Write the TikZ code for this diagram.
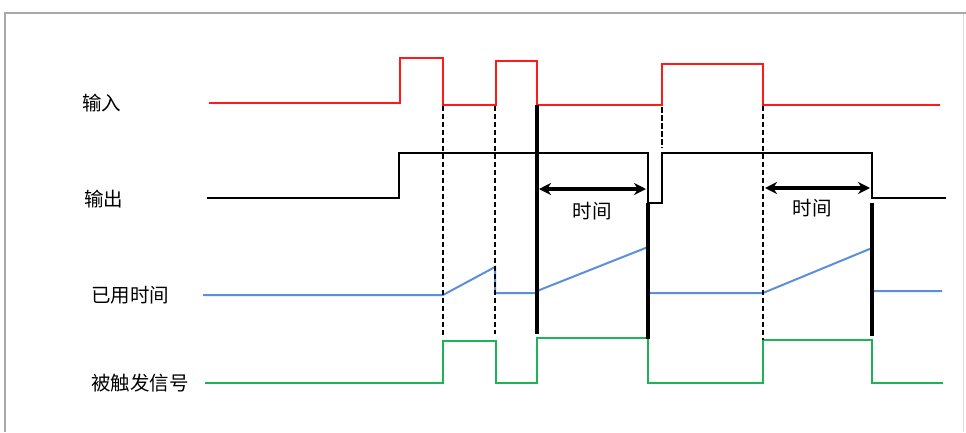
\documentclass[tikz,border=0pt]{standalone}
\usepackage{fontspec}
\setmainfont{Noto Sans CJK SC}
\usetikzlibrary{arrows.meta}
\definecolor{sigred}{HTML}{FF1A1A}
\definecolor{sigblue}{HTML}{5B8FDC}
\definecolor{siggreen}{HTML}{1DB356}
\definecolor{frame}{HTML}{A8A8A8}
\tikzset{
  sig/.style={line width=2pt, line join=miter},
  thickbar/.style={line width=3.8pt, black},
  dashbar/.style={line width=1.5pt, black, dash pattern=on 5pt off 3pt},
  lbl/.style={anchor=west, inner sep=0pt, font=\fontsize{19.5}{22}\selectfont},
  tlbl/.style={inner sep=0pt, font=\fontsize{19.5}{22}\selectfont},
  span/.style={line width=3.2pt, {Stealth[length=12pt,width=12pt]}-{Stealth[length=12pt,width=12pt]}}
}
\begin{document}
\begin{tikzpicture}[x=1pt,y=-1pt]
\useasboundingbox (0,0) rectangle (966,432);
\fill[white] (0,0) rectangle (966,432);
% frame
\draw[frame, line width=2pt] (5,432) -- (5,13) -- (966,13);
\draw[frame!40, line width=1pt] (963,14) -- (963,432);
% labels
\node[lbl] (in)  at (82,103) {输入};
\node[lbl] (out) at (84,199) {输出};
\node[lbl] (el)  at (91,295) {已用时间};
\node[lbl] (tr)  at (91,383) {被触发信号};
% input (red)
\draw[sig, sigred] (209,103) -- (400,103) -- (400,58) -- (443,58) -- (443,105) -- (496,105) -- (496,61) -- (537,61) -- (537,105) -- (662,105) -- (662,64) -- (763,64) -- (763,105) -- (940,105);
% output (black)
\draw[sig, black] (207,198) -- (399,198) -- (399,153) -- (648,153) -- (648,203) -- (662,203) -- (662,153) -- (872,153) -- (872,198) -- (946,198);
% elapsed time (blue)
\draw[sig, sigblue] (203,295) -- (443,295) -- (495,267) -- (495,293) -- (537,293);
\draw[sig, sigblue] (537,291) -- (648,247);
\draw[sig, sigblue] (648,293) -- (763,293) -- (872,248) -- (872,291) -- (942,291);
% trigger (green)
\draw[sig, siggreen] (205,383) -- (443,383) -- (443,341) -- (496,341) -- (496,383) -- (537,383) -- (537,338) -- (648,338) -- (648,383) -- (763,383) -- (763,340) -- (872,340) -- (872,383) -- (943,383);
% dashed markers
\draw[dashbar] (443,106) -- (443,336);
\draw[dashbar] (495,106) -- (495,334);
\draw[dashbar, line width=2.4pt, dash pattern=on 6pt off 2pt] (662,107) -- (662,148);
\draw[dashbar] (763,106) -- (763,340);
% thick bars
\draw[thickbar] (537,105) -- (537,334);
\draw[thickbar] (648,203) -- (648,339);
\draw[thickbar] (872,203) -- (872,336);
% time spans
\coordinate (a1) at (539,189);
\coordinate (b1) at (646,189);
\coordinate (a2) at (765,188);
\coordinate (b2) at (870,188);
\draw[span] (a1) -- (b1);
\draw[span] (a2) -- (b2);
\node[tlbl] (t1) at (592,211) {时间};
\node[tlbl] (t2) at (812,208) {时间};
\end{tikzpicture}
\end{document}
